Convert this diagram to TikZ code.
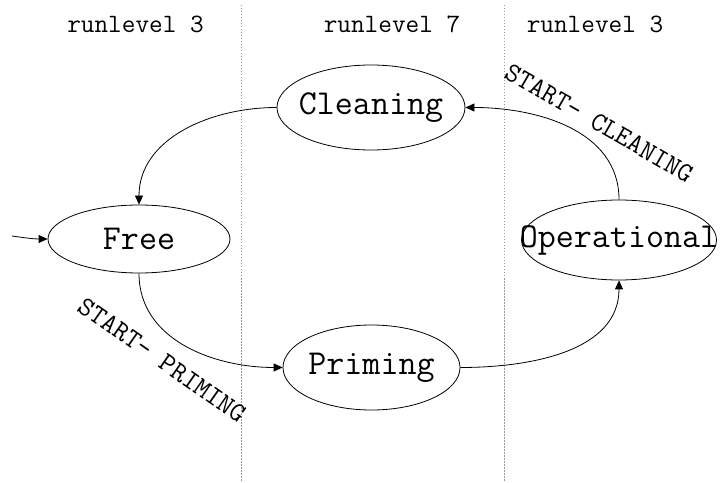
\documentclass[tikz,border=0pt]{standalone}
\usepackage{fontspec}
\usetikzlibrary{shapes.geometric,arrows.meta}

\tikzset{
  state/.style={draw, ellipse, line width=0.8pt, inner sep=0pt},
  statetext/.style={font=\ttfamily\fontsize{35}{35}\selectfont},
  headtext/.style={font=\ttfamily\fontsize{26.5}{26.5}\selectfont, anchor=base},
  edgelabel/.style={font=\ttfamily\fontsize{27.5}{27.5}\selectfont},
  divider/.style={draw=gray!80, line width=0.7pt, dash pattern=on 1.5pt off 1.5pt},
  trans/.style={draw, line width=0.8pt, -{Triangle[length=9pt,width=8pt]}}
}

\begin{document}
\begin{tikzpicture}[x=1pt,y=1pt]
  \useasboundingbox (0,0) rectangle (722,482);

  % runlevel columns
  \draw[divider] (241.5,477) -- (241.5,0);
  \draw[divider] (504.5,477) -- (504.5,0);
  \node[headtext] (h1) at (135.5,449) {runlevel 3};
  \node[headtext] (h2) at (392,449) {runlevel 7};
  \node[headtext] (h3) at (595,449) {runlevel 3};

  % states
  \node[state, minimum width=188pt, minimum height=85pt,
        label={[statetext]center:Cleaning}] (clean) at (371,374.5) {};
  \node[state, minimum width=182pt, minimum height=68pt,
        label={[statetext]center:Free}] (free) at (139,243) {};
  \node[state, minimum width=177pt, minimum height=85pt,
        label={[statetext]center:Priming}] (prim) at (371.5,114.5) {};
  \node[state, minimum width=195pt, minimum height=80pt,
        label={[statetext]center:Operational}] (oper) at (619,242) {};

  % initial transition
  \coordinate (init) at (12,246);
  \draw[trans] (init) to[out=-8,in=180] (free.west);

  % cycle
  \draw[trans] (clean.west) to[out=180,in=90] (free.north);
  \draw[trans] (free.south) to[out=-90,in=180] (prim.west);
  \draw[trans] (prim.east) to[out=0,in=-90] (oper.south);
  \draw[trans] (oper.north) to[out=90,in=0] (clean.east);

  % transition labels
  \node[edgelabel, rotate=-35] (lp) at (162,122) {START- PRIMING};
  \node[edgelabel, rotate=-30] (lc) at (599,359) {START- CLEANING};
\end{tikzpicture}
\end{document}
